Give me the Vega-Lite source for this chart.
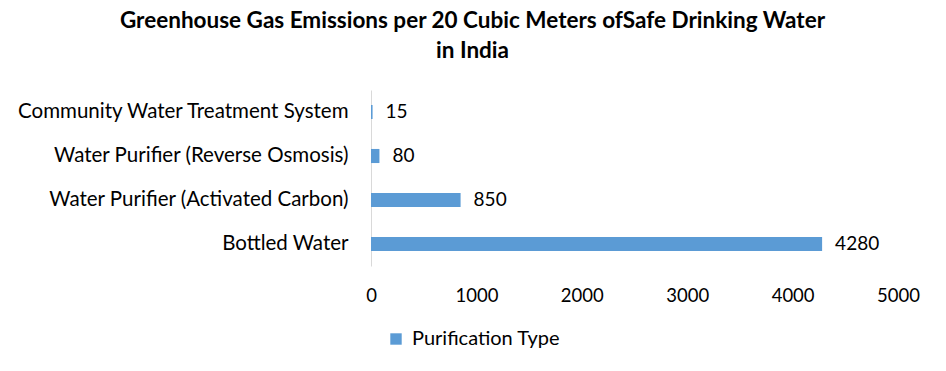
{
  "$schema": "https://vega.github.io/schema/vega-lite/v6.json",
  "autosize": "none",
  "width": 527,
  "height": 176,
  "padding": {"left": 371, "top": 90, "right": 48, "bottom": 105},
  "background": "white",
  "config": {"view": {"stroke": null}},
  "title": {
    "text": ["Greenhouse Gas Emissions  per 20 Cubic  Meters ofSafe Drinking Water", "in India"],
    "font": "Lato",
    "fontSize": 22.5,
    "fontWeight": "bold",
    "color": "#000000",
    "anchor": "middle",
    "dx": -162,
    "offset": 28,
    "lineHeight": 30
  },
  "data": {
    "values": [
      {"type": "Community Water Treatment System", "value": 15, "series": "Purification Type"},
      {"type": "Water Purifier (Reverse Osmosis)", "value": 80, "series": "Purification Type"},
      {"type": "Water Purifier (Activated Carbon)", "value": 850, "series": "Purification Type"},
      {"type": "Bottled Water", "value": 4280, "series": "Purification Type"}
    ]
  },
  "encoding": {
    "y": {
      "field": "type",
      "type": "nominal",
      "sort": null,
      "scale": {"paddingInner": 0.68, "paddingOuter": 0.34},
      "axis": {
        "title": null,
        "ticks": false,
        "domain": true,
        "domainColor": "#d9d9d9",
        "labelFont": "Lato",
        "labelFontSize": 20.5,
        "labelColor": "#000000",
        "labelPadding": 23,
        "labelLimit": 400,
        "grid": false
      }
    },
    "x": {
      "field": "value",
      "type": "quantitative",
      "scale": {"domain": [0, 5000], "nice": false},
      "axis": {
        "title": null,
        "values": [0, 1000, 2000, 3000, 4000, 5000],
        "format": "d",
        "domain": false,
        "ticks": false,
        "grid": false,
        "labelFont": "Lato",
        "labelFontSize": 18.5,
        "labelColor": "#000000",
        "labelPadding": 20,
        "labelFlush": false
      }
    }
  },
  "layer": [
    {
      "mark": {"type": "bar"},
      "encoding": {
        "color": {
          "field": "series",
          "type": "nominal",
          "scale": {"range": ["#5b9bd5"]},
          "legend": {
            "title": null,
            "orient": "none",
            "legendX": 15,
            "legendY": 239,
            "symbolType": "square",
            "symbolSize": 130,
            "labelFont": "Lato",
            "labelFontSize": 20,
            "labelColor": "#000000",
            "labelOffset": 6
          }
        }
      }
    },
    {
      "mark": {"type": "text", "align": "left", "baseline": "middle", "dx": 13, "font": "Lato", "fontSize": 19, "color": "#000000"},
      "encoding": {"text": {"field": "value", "type": "quantitative"}}
    }
  ]
}
